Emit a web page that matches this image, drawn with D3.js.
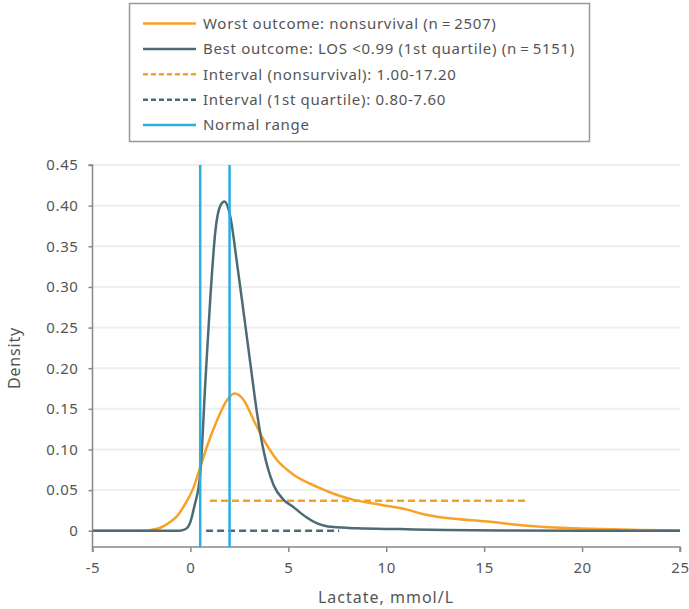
<!DOCTYPE html>
<html>
<head>
<meta charset="utf-8">
<script src="https://cdn.jsdelivr.net/npm/d3@7"></script>
<style>
  body { margin: 0; background: #fff; }
  svg text { font-family: "Noto Sans", "Open Sans", sans-serif; fill: #555; }
</style>
</head>
<body>
<svg id="chart"></svg>
<script>
//// DATA

// lactate (mmol/L) and density
const worstX = [-5, -2.5, -2, -1.5, -1.02, -0.68, -0.34, 0.17, 0.51, 0.85, 1.36, 1.87, 2.25, 2.72, 3.23, 3.74, 4.42, 5.27, 6.47, 7.49, 8.34, 9.7, 11.07, 11.8, 13.1, 15.15, 17.2, 19.24, 20.95, 23, 25];
const worstY = [0, 0, 0.001, 0.004, 0.011, 0.018, 0.03, 0.054, 0.079, 0.104, 0.136, 0.161, 0.169, 0.161, 0.136, 0.112, 0.087, 0.069, 0.054, 0.044, 0.038, 0.032, 0.026, 0.021, 0.0156, 0.0115, 0.0061, 0.0033, 0.002, 0.001, 0.0004];

const bestX = [-5, -0.6, -0.35, -0.15, 0, 0.2, 0.5, 0.77, 1.02, 1.28, 1.53, 1.74, 2.04, 2.38, 2.72, 3.06, 3.4, 3.74, 4.25, 4.76, 5.27, 5.62, 5.96, 6.47, 6.8, 7.3, 8.5, 10.7, 13, 15.8, 20, 25];
const bestY = [0, 0, 0.001, 0.004, 0.011, 0.03, 0.07, 0.186, 0.288, 0.37, 0.40, 0.405, 0.386, 0.329, 0.268, 0.206, 0.145, 0.098, 0.056, 0.038, 0.029, 0.022, 0.016, 0.009, 0.0065, 0.0045, 0.003, 0.002, 0.001, 0.0004, 0, 0];

const intervalWorst = [1.00, 17.20];
const intervalBest = [0.80, 7.60];
const intervalWorstLevel = 0.037;
const normalRange = [0.5, 2.0];

const xTicks = [-5, 0, 5, 10, 15, 20, 25];
const yTicks = [0, 0.05, 0.10, 0.15, 0.20, 0.25, 0.30, 0.35, 0.40, 0.45];

const legendLabels = [
    "Worst outcome: nonsurvival (n\u2009=\u20092507)",
    "Best outcome: LOS <0.99 (1st quartile) (n\u2009=\u20095151)",
    "Interval (nonsurvival): 1.00-17.20",
    "Interval (1st quartile): 0.80-7.60",
    "Normal range",
];

//// SETTINGS

const width = 689;
const height = 609;
const colors = { worst: "#f7a224", best: "#4c6b75", normal: "#2aaee4" };
const plot = { left: 92.5, right: 680, top: 165, bottom: 547 };

const svg = d3.select("#chart").attr("width", width).attr("height", height);

const x = d3.scaleLinear().domain([-5, 25]).range([plot.left, plot.right]);
const y = d3.scaleLinear().domain([-0.02, 0.45]).range([plot.bottom, plot.top]);

// gridlines
svg.append("g")
    .selectAll("line")
    .data(yTicks.slice(1))
    .enter()
    .append("line")
    .attr("x1", plot.left)
    .attr("x2", plot.right)
    .attr("y1", d => y(d))
    .attr("y2", d => y(d))
    .style("stroke", "#eeeeee")
    .style("stroke-width", 2);

// axes
const xAxis = svg.append("g")
    .attr("transform", `translate(0,${plot.bottom})`)
    .call(d3.axisBottom(x).tickValues(xTicks).tickSize(5).tickPadding(10).tickFormat(d => String(d)));

const yAxis = svg.append("g")
    .attr("transform", `translate(${plot.left},0)`)
    .call(d3.axisLeft(y).tickValues(yTicks).tickSize(4).tickPadding(10)
        .tickFormat(d => d === 0 ? "0" : d3.format(".2f")(d)));

[xAxis, yAxis].forEach(ax => {
    ax.select(".domain").style("stroke", "#888").style("stroke-width", 1.5);
    ax.selectAll(".tick line").style("stroke", "#888").style("stroke-width", 1.5);
    ax.selectAll("text").style("font-size", "15px").style("letter-spacing", "0.6px").style("fill", "#555");
});
// extend y axis line to the x axis
yAxis.select(".domain").attr("d", `M-4,${y(0.45)}H0V${plot.bottom}`);
xAxis.select(".domain").attr("d", `M${plot.left},5V0H${plot.right}V5`);

svg.append("text")
    .attr("x", 386)
    .attr("y", 603)
    .attr("text-anchor", "middle")
    .style("font-size", "16px")
    .style("letter-spacing", "1px")
    .text("Lactate, mmol/L");

svg.append("text")
    .attr("transform", `translate(20,358) rotate(-90)`)
    .attr("text-anchor", "middle")
    .style("font-size", "16px")
    .style("letter-spacing", "0.8px")
    .text("Density");

// intervals
svg.append("line")
    .attr("x1", x(intervalWorst[0])).attr("x2", x(intervalWorst[1]))
    .attr("y1", y(intervalWorstLevel)).attr("y2", y(intervalWorstLevel))
    .style("stroke", colors.worst).style("stroke-width", 2.5).style("stroke-dasharray", "7,4");

svg.append("line")
    .attr("x1", x(intervalBest[0])).attr("x2", x(intervalBest[1]))
    .attr("y1", y(0)).attr("y2", y(0))
    .style("stroke", colors.best).style("stroke-width", 2.5).style("stroke-dasharray", "7,4");

// density curves
const line = d3.line()
    .x(d => x(d[0]))
    .y(d => y(d[1]))
    .curve(d3.curveMonotoneX);

svg.append("path")
    .datum(d3.zip(worstX, worstY))
    .attr("d", line)
    .style("fill", "none")
    .style("stroke", colors.worst)
    .style("stroke-width", 2.5);

svg.append("path")
    .datum(d3.zip(bestX, bestY))
    .attr("d", line)
    .style("fill", "none")
    .style("stroke", colors.best)
    .style("stroke-width", 2.5);

// normal range
svg.append("g")
    .selectAll("line")
    .data(normalRange)
    .enter()
    .append("line")
    .attr("x1", d => x(d)).attr("x2", d => x(d))
    .attr("y1", plot.top).attr("y2", plot.bottom)
    .style("stroke", colors.normal)
    .style("stroke-width", 2.5);

// legend
const legend = svg.append("g");
legend.append("rect")
    .attr("x", 129.5).attr("y", 3.5)
    .attr("width", 460).attr("height", 138)
    .style("fill", "#fff")
    .style("stroke", "#999")
    .style("stroke-width", 1.5);

const legendStyles = [
    { color: colors.worst, dash: null },
    { color: colors.best, dash: null },
    { color: colors.worst, dash: "5,3" },
    { color: colors.best, dash: "5,3" },
    { color: colors.normal, dash: null },
];

const rows = legend.selectAll(".row")
    .data(legendLabels)
    .enter()
    .append("g")
    .attr("class", "row")
    .attr("transform", (d, i) => `translate(0,${23.5 + i * 25.4})`);

rows.append("line")
    .attr("x1", 143).attr("x2", 196)
    .style("stroke", (d, i) => legendStyles[i].color)
    .style("stroke-width", 2.5)
    .style("stroke-dasharray", (d, i) => legendStyles[i].dash);

rows.append("text")
    .attr("x", 203)
    .attr("dy", "0.35em")
    .style("font-size", "15px")
    .style("letter-spacing", "0.7px")
    .text(d => d);
</script>
</body>
</html>
